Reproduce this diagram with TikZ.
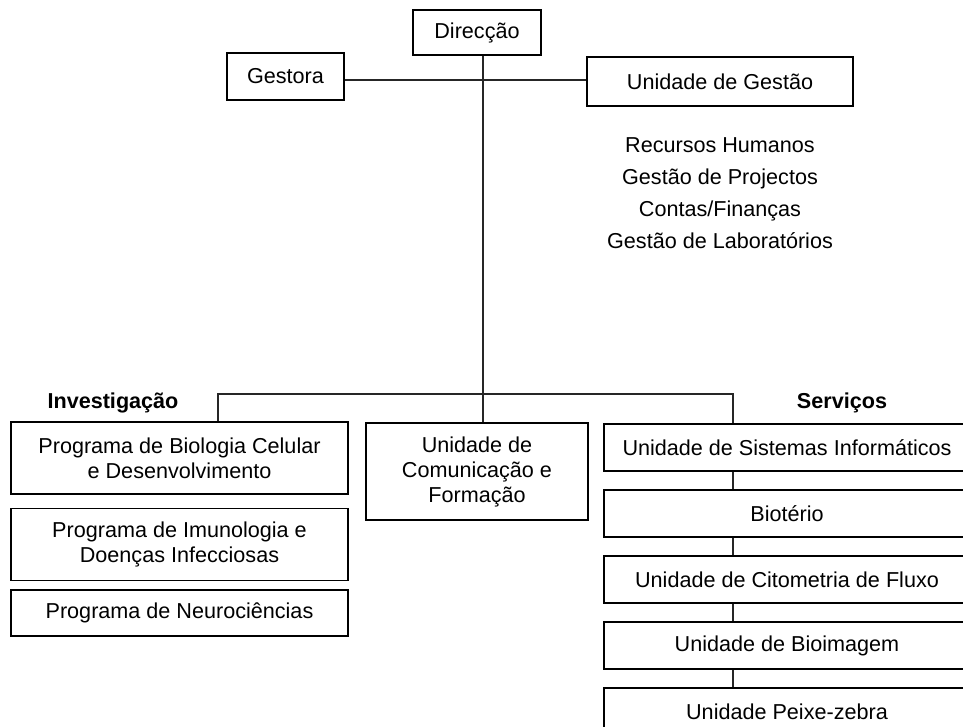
\documentclass[tikz,border=0pt]{standalone}
\usepackage{fontspec}
\setmainfont{Liberation Sans}
\usetikzlibrary{positioning}

\begin{document}
\begin{tikzpicture}[
    x=1pt, y=-1pt,
    node distance=17.5pt,
    unit/.style={rectangle, draw, line width=1.5pt, inner sep=0pt, align=center, font=\fontsize{21.6}{25}\selectfont},
    srvunit/.style={unit, minimum width=366pt, minimum height=47pt},
    invunit/.style={unit, minimum width=337pt},
    link/.style={line width=1.5pt, black!85},
    heading/.style={font=\fontsize{21.6}{25}\selectfont\bfseries},
    duties/.style={align=center, font=\fontsize{21.6}{32}\selectfont}
]
    \useasboundingbox (0,0) rectangle (963,726);
    \clip (0,0) rectangle (963,726);

    % Top level
    \node[unit, minimum width=128pt, minimum height=45pt] (dir) at (477,32.5) {Direcção};
    \node[unit, minimum width=117pt, minimum height=47pt] (gest) at (285.5,76.5) {Gestora};
    \node[unit, minimum width=266pt, minimum height=49pt] (ug) at (720,81.5) {Unidade de Gestão};
    \node[duties, below=27pt of ug] (tasks) {Recursos Humanos\\Gestão de Projectos\\Contas/Finanças\\Gestão de Laboratórios};

    % Investigação
    \node[heading] (inv) at (113,403) {Investigação};
    \node[invunit, minimum height=72pt] (bcd) at (179.5,458) {Programa de Biologia Celular\\e Desenvolvimento};
    \node[invunit, minimum height=72pt, below=13pt of bcd] (imu) {Programa de Imunologia e\\Doenças Infecciosas};
    \node[invunit, minimum height=46pt, below=8pt of imu] (neu) {Programa de Neurociências};

    % Centre
    \node[unit, minimum width=222pt, minimum height=97pt] (com) at (477,471.5) {Unidade de\\Comunicação e\\Formação};

    % Serviços
    \node[heading] (srv) at (842,403) {Serviços};
    \node[srvunit] (sis) at (787,447.5) {Unidade de Sistemas Informáticos};
    \node[srvunit, below=of sis] (bio) {Biotério};
    \node[srvunit, below=of bio] (cit) {Unidade de Citometria de Fluxo};
    \node[srvunit, below=of cit] (bim) {Unidade de Bioimagem};
    \node[srvunit, below=of bim] (pz) {Unidade Peixe-zebra};

    % Connectors
    \coordinate (hub) at (483,80);
    \coordinate (invdrop) at (218,394);
    \coordinate (srvdrop) at (733,394);
    \draw[link] (gest.east |- hub) -- (ug.west |- hub);
    \draw[link] (dir.south -| hub) -- (com.north -| hub);
    \draw[link] (bcd.north -| invdrop) -- (invdrop) -- (srvdrop) -- (sis.north -| srvdrop);
    \foreach \a/\b in {sis/bio, bio/cit, cit/bim, bim/pz}
        \draw[link] (\a.south -| srvdrop) -- (\b.north -| srvdrop);
\end{tikzpicture}
\end{document}
